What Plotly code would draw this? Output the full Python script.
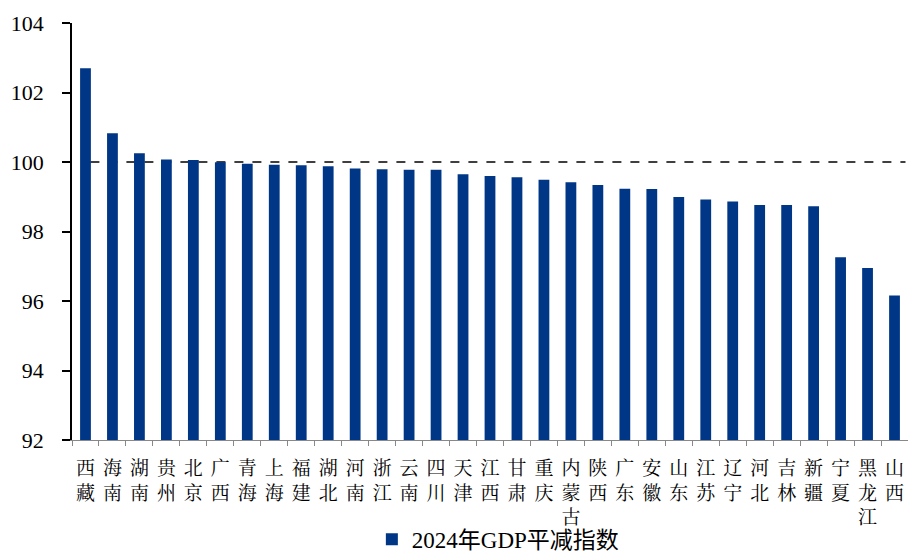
import plotly.graph_objects as go

provinces = ["西藏", "海南", "湖南", "贵州", "北京", "广西", "青海", "上海", "福建", "湖北",
             "河南", "浙江", "云南", "四川", "天津", "江西", "甘肃", "重庆", "内蒙古", "陕西",
             "广东", "安徽", "山东", "江苏", "辽宁", "河北", "吉林", "新疆", "宁夏", "黑龙江", "山西"]
values = [102.70, 100.83, 100.25, 100.07, 100.06, 99.99, 99.95, 99.92, 99.91, 99.88,
          99.81, 99.79, 99.78, 99.78, 99.65, 99.60, 99.56, 99.49, 99.42, 99.34,
          99.23, 99.22, 98.99, 98.92, 98.86, 98.76, 98.76, 98.73, 97.26, 96.95, 96.16]
series_name = "2024年GDP平减指数"
y_ticks = [92, 94, 96, 98, 100, 102, 104]
ref_level = 100

labels = ["<br>".join(list(p)) for p in provinces]

fig = go.Figure()
fig.add_trace(go.Bar(x=labels, y=values, name=series_name,
                     marker=dict(color="#003686", line=dict(width=0))))

fig.add_shape(type="line", xref="paper", yref="y", x0=0.022, x1=0.997,
              y0=ref_level, y1=ref_level,
              line=dict(color="black", width=1.5, dash="dash"), layer="below")

font_main = "Liberation Serif, Times New Roman, Noto Sans CJK SC, serif"

fig.update_layout(
    width=908, height=554,
    margin=dict(l=72, r=0, t=23, b=114, autoexpand=False),
    paper_bgcolor="white", plot_bgcolor="white",
    bargap=0.6,
    showlegend=True,
    legend=dict(orientation="h", x=0.510, xanchor="center", y=-0.238, yanchor="middle",
                font=dict(family=font_main, size=23, color="black"),
                itemsizing="constant", itemwidth=30, bgcolor="rgba(0,0,0,0)"),
    font=dict(family=font_main, size=20, color="black"),
)
fig.update_xaxes(
    type="category", showline=True, linecolor="#888888", linewidth=1,
    ticks="outside", tickson="boundaries", ticklen=5, tickcolor="#888888",
    tickfont=dict(family="Noto Serif CJK SC, Noto Sans CJK SC, serif", size=19, color="black"),
    tickangle=0, showgrid=False, zeroline=False, automargin=False,
    ticklabelstandoff=11,
)
fig.update_yaxes(
    range=[92, 104], tickvals=y_ticks, ticktext=[str(t) for t in y_ticks],
    showline=True, linecolor="black", linewidth=1.5,
    ticks="outside", ticklen=8, tickcolor="black", tickwidth=1.5,
    tickfont=dict(family=font_main, size=22, color="black"),
    showgrid=False, zeroline=False, ticklabelstandoff=14, automargin=False,
)

fig.write_html(
    "out.html",
    config={"displayModeBar": False},
    post_script="document.body.style.margin='0';document.body.style.overflow='hidden';",
)
